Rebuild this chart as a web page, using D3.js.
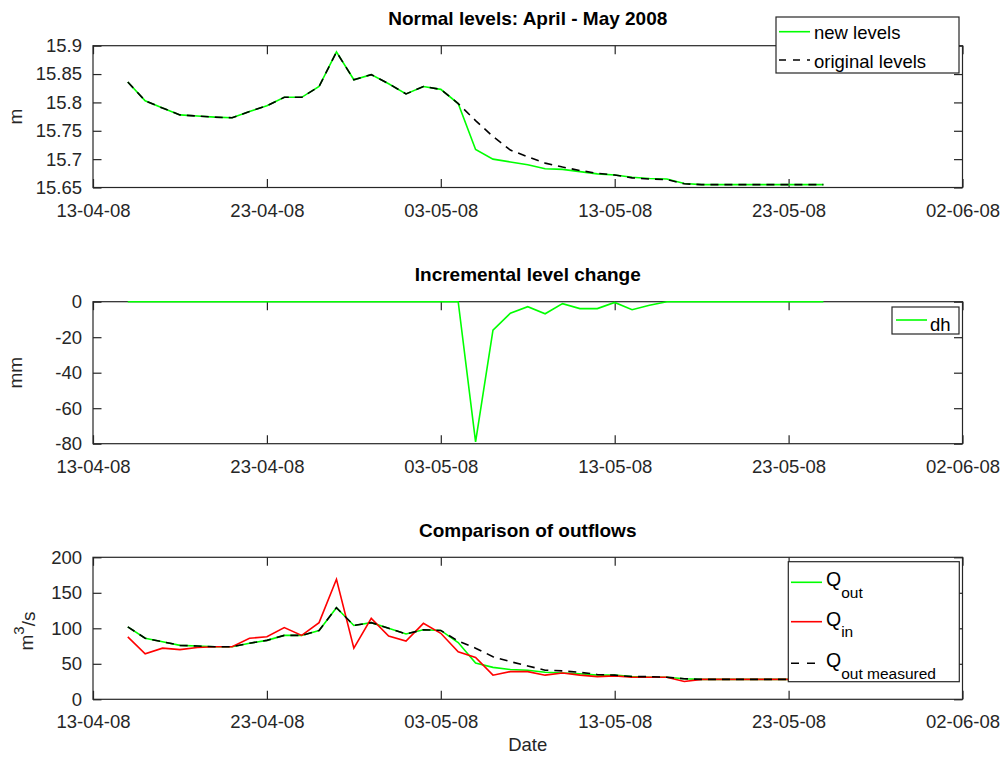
<!DOCTYPE html>
<html><head><meta charset="utf-8">
<script src="https://cdn.jsdelivr.net/npm/d3@7"></script>
<style>
body{margin:0;background:#fff}
svg{display:block}
text{font-family:"Liberation Sans",Arial,Helvetica,sans-serif;fill:#262626}
</style>
</head><body>
<svg id="c" width="1005" height="758"></svg>
<script>
// ---------- DATA ----------
const dates = ["2008-04-15","2008-04-16","2008-04-17","2008-04-18","2008-04-19","2008-04-20","2008-04-21","2008-04-22","2008-04-23","2008-04-24",
"2008-04-25","2008-04-26","2008-04-27","2008-04-28","2008-04-29","2008-04-30","2008-05-01","2008-05-02","2008-05-03","2008-05-04",
"2008-05-05","2008-05-06","2008-05-07","2008-05-08","2008-05-09","2008-05-10","2008-05-11","2008-05-12","2008-05-13","2008-05-14",
"2008-05-15","2008-05-16","2008-05-17","2008-05-18","2008-05-19","2008-05-20","2008-05-21","2008-05-22","2008-05-23","2008-05-24","2008-05-25"];

const originalLevels = [15.836,15.803,15.790,15.778,15.776,15.774,15.773,15.784,15.794,15.809,
15.809,15.828,15.889,15.840,15.849,15.833,15.815,15.828,15.823,15.798,
15.768,15.740,15.716,15.704,15.693,15.686,15.680,15.675,15.672,15.667,
15.665,15.664,15.6565,15.655,15.655,15.655,15.655,15.655,15.655,15.655,15.655];

const newLevels = [15.836,15.803,15.790,15.778,15.776,15.774,15.773,15.784,15.794,15.809,
15.809,15.828,15.889,15.840,15.849,15.833,15.815,15.828,15.823,15.798,
15.717,15.700,15.695,15.690,15.683,15.682,15.678,15.674,15.672,15.668,
15.666,15.665,15.657,15.655,15.655,15.655,15.655,15.655,15.655,15.655,15.655];

const dh = [0,0,0,0,0,0,0,0,0,0,
0,0,0,0,0,0,0,0,0,0,
-79,-16,-6.5,-2.8,-6.8,-1.1,-3.9,-3.9,-0.4,-4.5,
-2,0,0,0,0,0,0,0,0,0,0];

const qOut = [102,86,81,76,75,74,74,79,83,90,
90,97,129,104,108,100,92,98,97,80,
51,45,42,41,38,37,36,34,34,32,
31,31,29,28,28,28,28,28,28,28,28];

const qIn = [88,64,72,70,73,74,74,86,88,101,
90,108,169,72,114,89,82,107,93,67,
59,34,39,39,34,37,34,32,33,31,
31,31,25,28,28,28,28,28,28,28,28];

const qOutMeasured = [102,86,81,76,75,74,74,79,83,90,
90,97,129,104,108,100,92,98,97,82,
72,60,53,47,41,40,38,35,34,32,
32,31,29,28,28,28,28,28,28,28,28];

const xDomain = ["2008-04-13","2008-06-02"];
const xTickDates = ["2008-04-13","2008-04-23","2008-05-03","2008-05-13","2008-05-23","2008-06-02"];
const levelTicks = [15.65,15.7,15.75,15.8,15.85,15.9];
const dhTicks = [-80,-60,-40,-20,0];
const flowTicks = [0,50,100,150,200];

const titles = ["Normal levels: April - May 2008","Incremental level change","Comparison of outflows"];

// ---------- LAYOUT ----------
const svg = d3.select("#c");
const parse = d3.timeParse("%Y-%m-%d");
const fmt = d3.timeFormat("%d-%m-%y");
const numFmt = d => String(d);
const X0 = 93, X1 = 962.5;
const TICK = 8.5;
const AX = "#262626";
const x = d3.scaleTime().domain(xDomain.map(parse)).range([X0, X1]);
const xd = dates.map(parse);

function panel(top, bottom, yDomain, yTicks, title) {
  const y = d3.scaleLinear().domain(yDomain).range([bottom, top]);
  const g = svg.append("g");
  g.append("rect").attr("x", X0).attr("y", top).attr("width", X1 - X0).attr("height", bottom - top)
    .attr("fill", "none").attr("stroke", AX).attr("stroke-width", 1.2);
  const tv = xTickDates.map(parse);
  const bx = g.append("g").attr("transform", `translate(0,${bottom})`)
    .call(d3.axisBottom(x).tickValues(tv).tickFormat(fmt).tickSizeInner(-TICK).tickSizeOuter(0).tickPadding(16));
  const tx = g.append("g").attr("transform", `translate(0,${top})`)
    .call(d3.axisTop(x).tickValues(tv).tickFormat("").tickSizeInner(-TICK).tickSizeOuter(0));
  const ly = g.append("g").attr("transform", `translate(${X0},0)`)
    .call(d3.axisLeft(y).tickValues(yTicks).tickFormat(numFmt).tickSizeInner(-TICK).tickSizeOuter(0).tickPadding(11));
  const ry = g.append("g").attr("transform", `translate(${X1},0)`)
    .call(d3.axisRight(y).tickValues(yTicks).tickFormat("").tickSizeInner(-TICK).tickSizeOuter(0));
  [bx, tx, ly, ry].forEach(a => {
    a.select(".domain").remove();
    a.selectAll("line").attr("stroke", AX).attr("stroke-width", 1.2);
    a.selectAll("text").attr("fill", AX).style("font-size", "18.5px").attr("font-family", null);
  });
  svg.append("text").attr("x", (X0 + X1) / 2).attr("y", top - 20.5).attr("text-anchor", "middle")
    .style("font-size", "19px").style("font-weight", "bold").style("fill", "#000").text(title);
  return y;
}

function drawLine(y, vals, color, dash) {
  const line = d3.line().x((d, i) => x(xd[i])).y(d => y(d));
  svg.append("path").datum(vals).attr("d", line).attr("fill", "none")
    .attr("stroke", color).attr("stroke-width", 1.6)
    .attr("stroke-dasharray", dash || null);
}

// Panel 1
const y1 = panel(45.7, 187.5, [15.65, 15.9], levelTicks, titles[0]);
drawLine(y1, newLevels, "#00ff00");
drawLine(y1, originalLevels, "#000", "8,6");
svg.append("text").attr("transform", "translate(21.5,116.6) rotate(-90)").attr("text-anchor", "middle")
  .style("font-size", "19px").text("m");

// Panel 2
const y2 = panel(301.7, 443.7, [-80, 0], dhTicks, titles[1]);
drawLine(y2, dh, "#00ff00");
svg.append("text").attr("transform", "translate(21.5,372.7) rotate(-90)").attr("text-anchor", "middle")
  .style("font-size", "19px").text("mm");

// Panel 3
const y3 = panel(557.3, 699.3, [0, 200], flowTicks, titles[2]);
drawLine(y3, qOut, "#00ff00");
drawLine(y3, qIn, "#ff0000");
drawLine(y3, qOutMeasured, "#000", "8,6");
const yl = svg.append("text").attr("transform", "translate(33,631) rotate(-90)").attr("text-anchor", "middle")
  .style("font-size", "19px");
yl.append("tspan").text("m");
yl.append("tspan").attr("dy", -9).style("font-size", "15px").text("3");
yl.append("tspan").attr("dy", 11).text("/s");

svg.append("text").attr("x", (X0 + X1) / 2).attr("y", 751).attr("text-anchor", "middle")
  .style("font-size", "18.5px").text("Date");

// ---------- LEGENDS ----------
function legBox(x0, y0, x1, y1b) {
  svg.append("rect").attr("x", x0).attr("y", y0).attr("width", x1 - x0).attr("height", y1b - y0)
    .attr("fill", "#fff").attr("stroke", AX).attr("stroke-width", 1.2);
}
function legLine(xa, xb, yy, color, dash) {
  svg.append("line").attr("x1", xa).attr("x2", xb).attr("y1", yy).attr("y2", yy)
    .attr("stroke", color).attr("stroke-width", 1.6).attr("stroke-dasharray", dash || null);
}
// top legend
legBox(776, 17, 959, 73);
legLine(779, 810, 31.7, "#00ff00");
svg.append("text").attr("x", 814).attr("y", 39.3).style("font-size", "18.5px").style("fill", "#000").text("new levels");
legLine(779, 810, 60, "#000", "7,7");
svg.append("text").attr("x", 814).attr("y", 68.3).style("font-size", "18.5px").style("fill", "#000").text("original levels");

// middle legend
legBox(892, 307, 959, 334);
legLine(896, 927, 320, "#00ff00");
svg.append("text").attr("x", 930).attr("y", 331).style("font-size", "18.5px").style("fill", "#000").text("dh");

// bottom legend
legBox(788.3, 561.7, 959.3, 681.7);
const qEntries = [
  {color: "#00ff00", dash: null, sub: "out", ly: 582.3},
  {color: "#ff0000", dash: null, sub: "in", ly: 621.7},
  {color: "#000", dash: "8,8", sub: "out measured", ly: 663.3}
];
qEntries.forEach(e => {
  legLine(791, 822, e.ly, e.color, e.dash);
  const t = svg.append("text").attr("x", 826).attr("y", e.ly + 4).style("font-size", "19.5px").style("fill", "#000");
  t.append("tspan").text("Q");
  t.append("tspan").attr("dy", 11.5).style("font-size", "15.5px").text(e.sub);
});
</script>
</body></html>
